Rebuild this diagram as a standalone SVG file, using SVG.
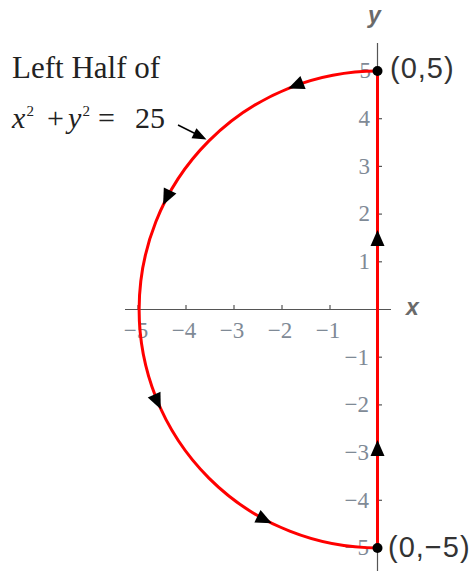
<svg xmlns="http://www.w3.org/2000/svg" xmlns:xlink="http://www.w3.org/1999/xlink" width="473" height="571" viewBox="0 0 473 571">
<style>
.axis{stroke:#555;stroke-width:1.2;fill:none}
.tick{stroke:#555;stroke-width:1.2}
.tl{font-family:"Liberation Serif",serif;font-size:23px;fill:#7f8a96}
.tlx{text-anchor:middle}
.tly{text-anchor:end}
.al{font-family:"Liberation Sans",sans-serif;font-size:23px;font-weight:bold;font-style:italic;fill:#6a6a6a}
.red{stroke:#ff0000;stroke-width:3;fill:none}
.pl{font-family:"Liberation Sans",sans-serif;font-size:29px;fill:#333;letter-spacing:1px}
.lbl{font-family:"Liberation Serif",serif;fill:#222}
</style>
<defs>
<path id="ah" d="M0,0 L-16,-7 L-16,7 Z" fill="#000"/>
</defs>
<rect width="473" height="571" fill="#fff"/>
<g id="axes">
<line class="axis" x1="125" y1="309.5" x2="391" y2="309.5"/>
<line class="axis" x1="377.5" y1="43" x2="377.5" y2="571"/>
<g id="xticks">
<line class="tick" x1="138" y1="309.5" x2="138" y2="305"/>
<line class="tick" x1="186" y1="309.5" x2="186" y2="305"/>
<line class="tick" x1="234" y1="309.5" x2="234" y2="305"/>
<line class="tick" x1="282" y1="309.5" x2="282" y2="305"/>
<line class="tick" x1="330" y1="309.5" x2="330" y2="305"/>
</g>
<g id="yticks">
<line class="tick" x1="377.5" y1="118.7" x2="382" y2="118.7"/>
<line class="tick" x1="377.5" y1="166.4" x2="382" y2="166.4"/>
<line class="tick" x1="377.5" y1="214.1" x2="382" y2="214.1"/>
<line class="tick" x1="377.5" y1="261.8" x2="382" y2="261.8"/>
<line class="tick" x1="377.5" y1="357.2" x2="382" y2="357.2"/>
<line class="tick" x1="377.5" y1="404.9" x2="382" y2="404.9"/>
<line class="tick" x1="377.5" y1="452.6" x2="382" y2="452.6"/>
<line class="tick" x1="377.5" y1="500.3" x2="382" y2="500.3"/>
</g>
<g id="xlabels">
<text class="tl tlx" x="136" y="338">−5</text>
<text class="tl tlx" x="184" y="338">−4</text>
<text class="tl tlx" x="232" y="338">−3</text>
<text class="tl tlx" x="280" y="338">−2</text>
<text class="tl tlx" x="328" y="338">−1</text>
</g>
<g id="ylabels">
<text class="tl tly" x="371" y="78">5</text>
<text class="tl tly" x="370" y="126">4</text>
<text class="tl tly" x="370" y="173.7">3</text>
<text class="tl tly" x="370" y="221.4">2</text>
<text class="tl tly" x="370" y="269.1">1</text>
<text class="tl tly" x="369" y="364.5">−1</text>
<text class="tl tly" x="369" y="412.2">−2</text>
<text class="tl tly" x="369" y="459.9">−3</text>
<text class="tl tly" x="369" y="507.6">−4</text>
<text class="tl tly" x="369" y="555.3">−5</text>
</g>
<text class="al" x="406" y="315">x</text>
<text class="al" x="368" y="23">y</text>
</g>
<g id="curve">
<path class="red" d="M377.5,71 A238.5,238.5 0 0 0 377.5,548"/>
<line class="red" x1="377.5" y1="71" x2="377.5" y2="548"/>
</g>
<g id="connectors">
<use xlink:href="#ah" href="#ah" transform="translate(288.2,88.4) rotate(158)"/>
<use xlink:href="#ah" href="#ah" transform="translate(163.1,204.9) rotate(116)"/>
<use xlink:href="#ah" href="#ah" transform="translate(160.8,409.2) rotate(65.3)"/>
<use xlink:href="#ah" href="#ah" transform="translate(271.8,523.3) rotate(26.3)"/>
<use xlink:href="#ah" href="#ah" transform="translate(377.5,230) rotate(-90)"/>
<use xlink:href="#ah" href="#ah" transform="translate(377.5,440) rotate(-90)"/>
<line x1="178" y1="125" x2="196" y2="134" stroke="#000" stroke-width="1.5"/>
<path d="M0,0 L-14,-5.5 L-14,5.5 Z" fill="#000" transform="translate(206.5,139.5) rotate(26.6)"/>
</g>
<g id="point-top">
<circle cx="377.5" cy="71" r="5" fill="#000"/>
<text class="pl" x="390" y="78">(0,5)</text>
</g>
<g id="point-bottom">
<circle cx="377.5" cy="548" r="5" fill="#000"/>
<text class="pl" x="388" y="557">(0,−5)</text>
</g>
<g id="label">
<text class="lbl" x="12" y="78" font-size="31">Left Half of</text>
<text class="lbl" y="128" font-size="30"><tspan x="12" font-style="italic">x</tspan><tspan x="26.5" y="116" font-size="15">2</tspan><tspan x="47" y="128">+</tspan><tspan x="68" font-style="italic">y</tspan><tspan x="82.5" y="116" font-size="15">2</tspan><tspan x="98" y="128">=</tspan><tspan x="135" y="128">25</tspan></text>
</g>
</svg>
